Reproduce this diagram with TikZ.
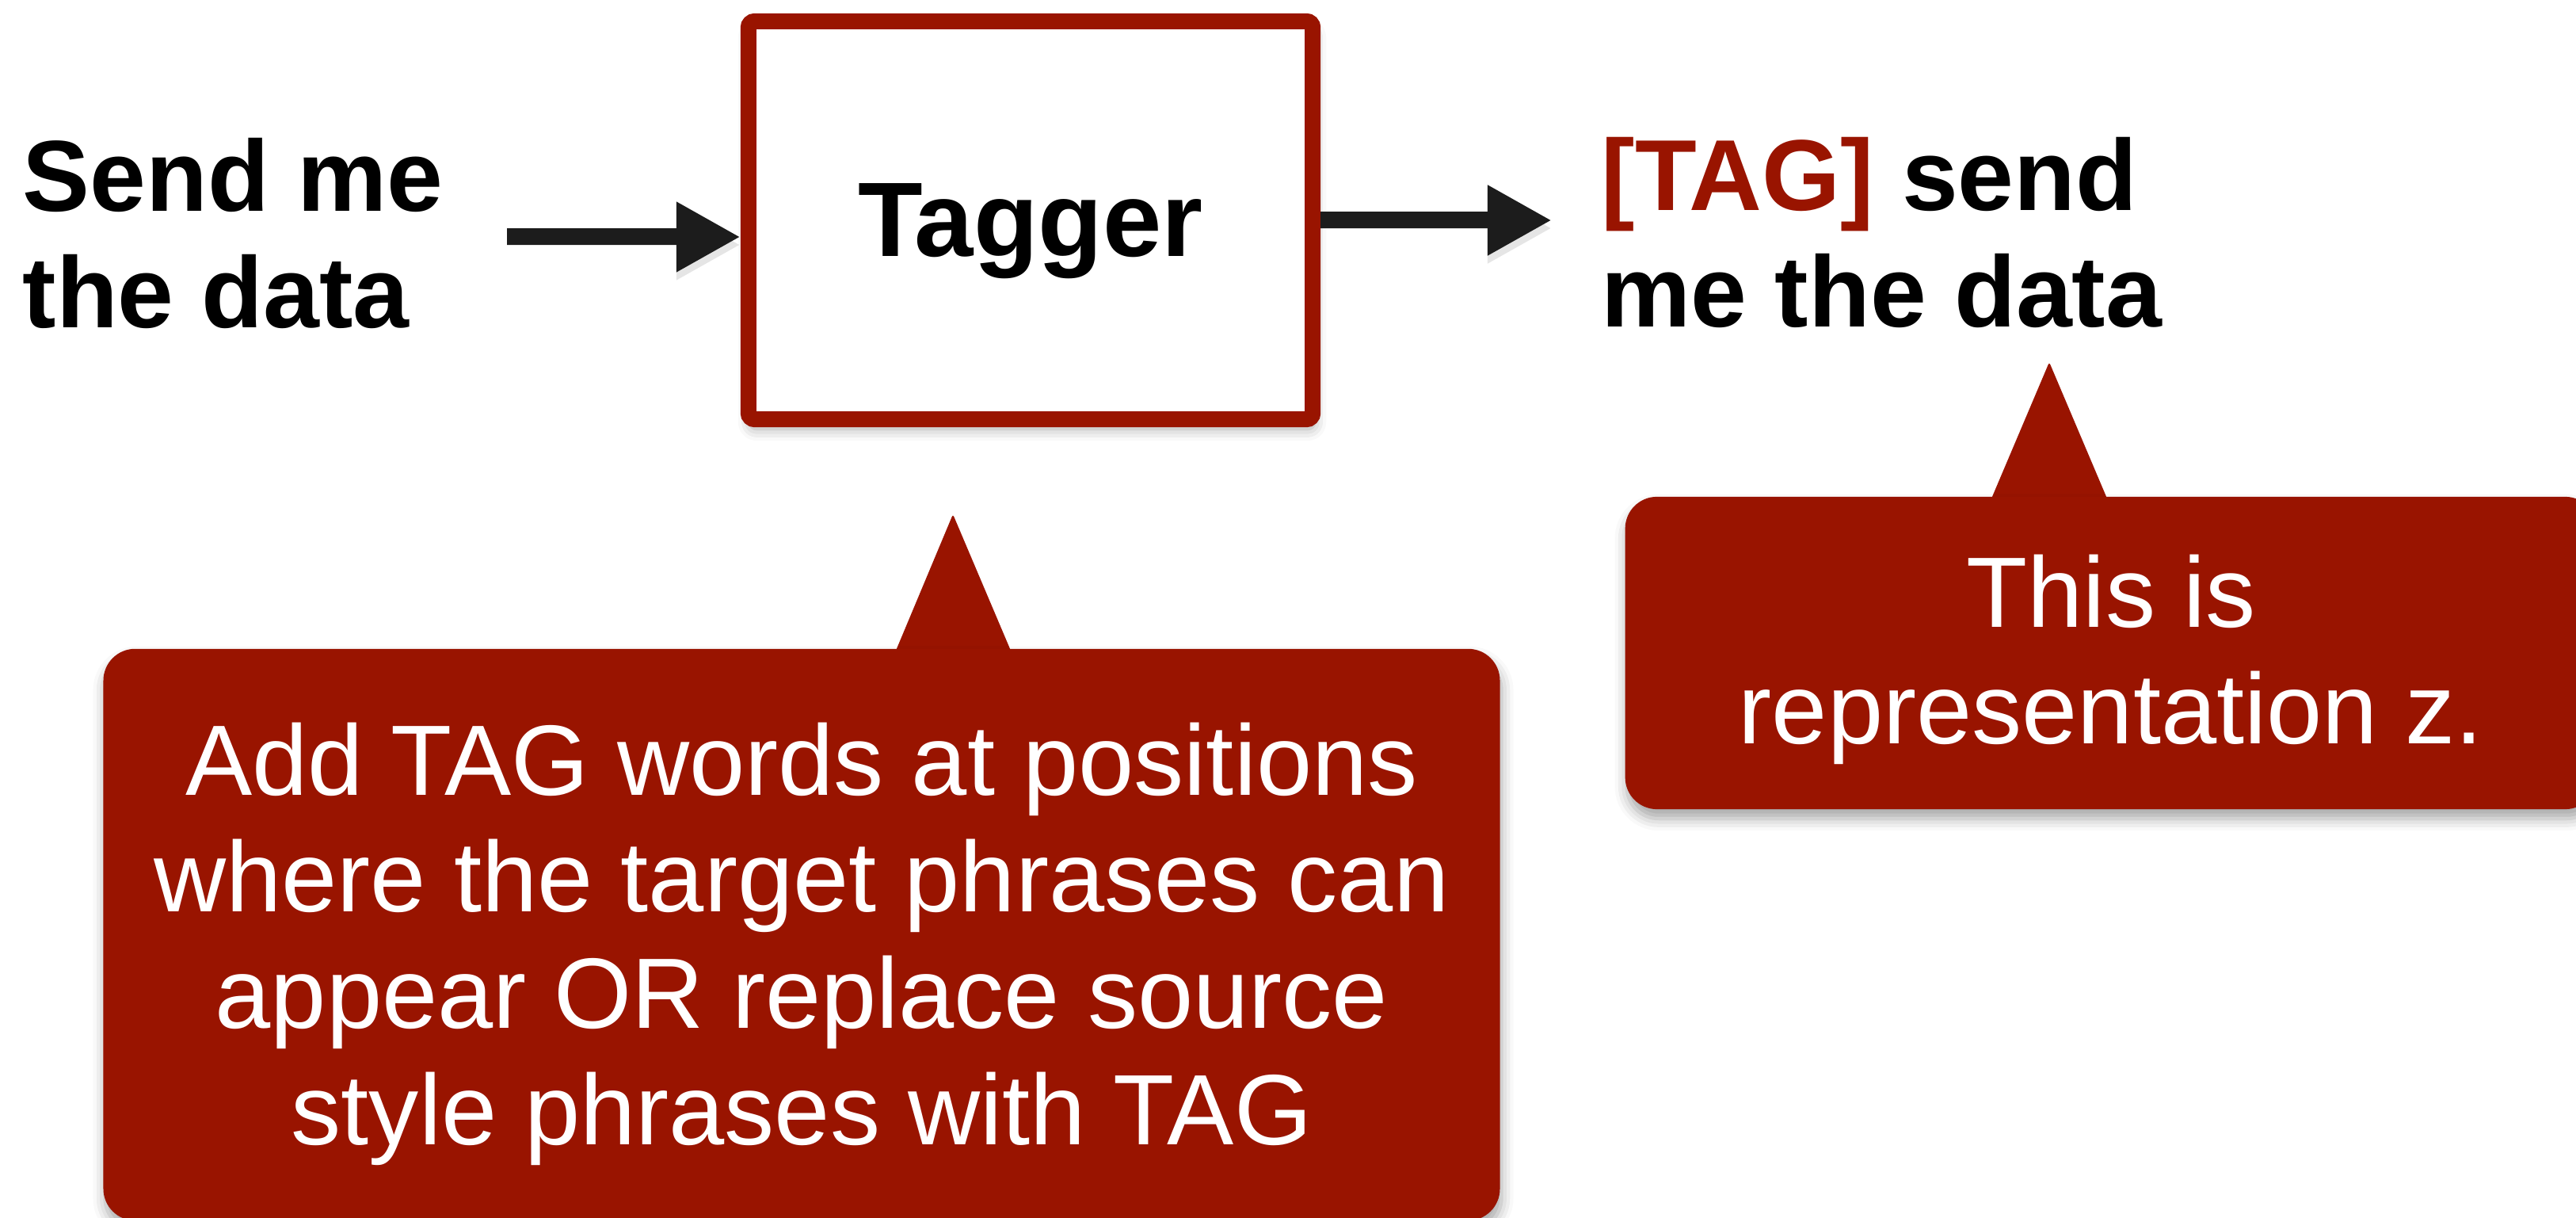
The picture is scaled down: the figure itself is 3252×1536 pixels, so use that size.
\documentclass[tikz,border=0pt]{standalone}
\usepackage{fontspec}
\setmainfont{Liberation Sans}
\usetikzlibrary{arrows.meta, positioning, calc, backgrounds, shadows.blur}

\definecolor{tagred}{HTML}{991400}
\definecolor{arrowgray}{HTML}{1C1C1C}

\begin{document}
\begin{tikzpicture}[x=0.01cm, y=0.01cm,
        tagbox/.style={rectangle, draw=tagred, line width=0.2cm, fill=white, rounded corners=0.08cm, minimum width=7.12cm, minimum height=5.02cm, text depth=0pt, font=\fontsize{38}{44}\selectfont\bfseries, blur shadow={shadow xshift=0.02cm, shadow yshift=-0.12cm, shadow blur radius=0.15cm, shadow opacity=35}},
        plain/.style={inner sep=0pt, align=left, font=\fontsize{36.2}{42}\selectfont\bfseries},
        note/.style={rectangle, fill=tagred, text=white, rounded corners=0.4cm, align=center, inner sep=0pt, font=\fontsize{35.9}{41.8}\selectfont, blur shadow={shadow xshift=0.02cm, shadow yshift=-0.12cm, shadow blur radius=0.15cm, shadow opacity=35}},
        pointer/.style={fill=tagred, rounded corners=0.03cm},
        line/.style={draw=arrowgray, line width=0.21cm, -{Triangle[length=0.81cm, width=0.83cm]},
            preaction={draw=black, opacity=0.1, transform canvas={yshift=-0.1cm}}}]

        \useasboundingbox (0,0) rectangle (3252,1536);

        \node [plain, anchor=base west] (input) at (28,1122) {Send me\\the data};
        \node [tagbox] (tagger) at (1301,1258) {Tagger};
        \node [plain, anchor=base west] (output) at (2021,1123) {\textcolor{tagred}{[TAG]} send\\me the data};

        \node [note, minimum width=12.26cm, minimum height=3.94cm, text depth=0.1cm] (repnote) at (2665,712) {This is\\representation z.};
        \node [note, minimum width=17.62cm, minimum height=7.21cm, text depth=0.03cm] (tagnote) at (1012,356.5) {Add TAG words at positions\\where the target phrases can\\appear OR replace source\\style phrases with TAG};

        % Paths
        \coordinate (inarrow) at (640,1237);
        \coordinate (outarrow) at (1959,1258);
        \path [line] (inarrow) -- (inarrow -| tagger.west);
        \path [line] (tagger.east) -- (outarrow);

        % Pointers of the notes
        \coordinate (tagtip) at (1203,887);
        \coordinate (reptip) at (2587,1079);
        \begin{scope}[on background layer]
            \fill [pointer] ($(tagnote.north)+(116,-10)$) -- (tagtip) -- ($(tagnote.north)+(267,-10)$) -- cycle;
            \fill [pointer] ($(repnote.north)+(-154,-10)$) -- (reptip) -- ($(repnote.north)+(-2,-10)$) -- cycle;
        \end{scope}

\end{tikzpicture}
\end{document}
